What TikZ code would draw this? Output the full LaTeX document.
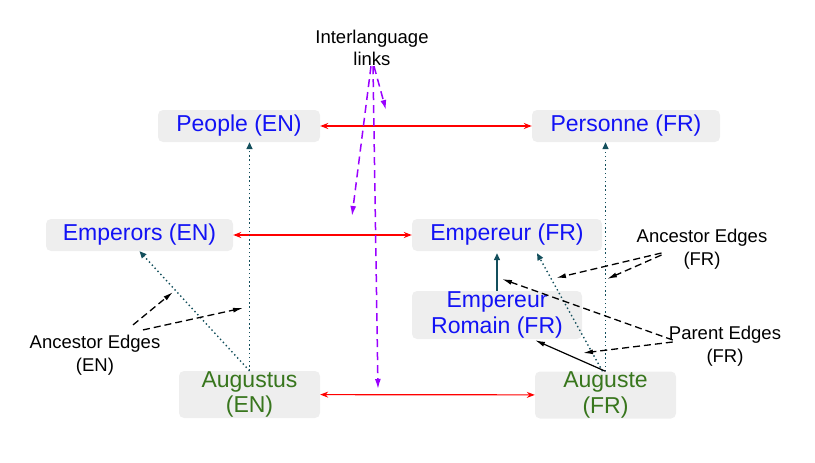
\documentclass[tikz,border=0pt]{standalone}
\usepackage{fontspec}
\setmainfont{Liberation Sans}
\usetikzlibrary{arrows.meta,positioning,calc}
\definecolor{boxgray}{HTML}{EEEEEE}
\definecolor{catblue}{HTML}{1212F5}
\definecolor{artgreen}{HTML}{38761D}
\definecolor{edgeteal}{HTML}{134F5C}
\definecolor{linkpurple}{HTML}{9900FF}
\tikzset{
  box/.style={fill=boxgray,rounded corners=5pt,inner sep=0pt,align=center,
    font=\fontsize{23}{25.5}\selectfont},
  cat/.style={box,text=catblue,minimum height=32pt},
  art/.style={box,text=artgreen,minimum height=47pt,minimum width=141pt},
  lbl/.style={align=center,inner sep=0pt,font=\fontsize{18.5}{22.5}\selectfont},
  langedge/.style={{Stealth[length=8pt,width=6pt]}-{Stealth[length=8pt,width=6pt]},red,line width=1.2pt},
  ancedge/.style={-{Triangle[length=7pt,width=6pt]},edgeteal,line width=1.4pt,dash pattern=on 1.4pt off 2.8pt},
  noteedge/.style={-{Latex[length=10pt,width=5pt]},black,line width=1.3pt,dash pattern=on 7pt off 4pt},
  linkedge/.style={-{Latex[length=10pt,width=6pt]},linkpurple,line width=1.5pt,dash pattern=on 8pt off 5pt},
}

\begin{document}
\begin{tikzpicture}[x=1pt,y=-1pt]
\useasboundingbox (0,0) rectangle (815,463);
% categories
\node[cat,minimum width=162pt] (people) at (239,126) {People (EN)};
\node[cat,minimum width=188pt] (personne) at (626,126) {Personne (FR)};
\node[cat,minimum width=187pt] (emperors) at (139.5,235) {Emperors (EN)};
\node[cat,minimum width=190pt] (empereur) at (507,235) {Empereur (FR)};
\node[cat,minimum width=170pt,minimum height=48pt] (romain) at (497,315) {Empereur\\Romain (FR)};
% articles
\node[art] (augustus) at (249.5,394.5) {Augustus\\(EN)};
\node[art] (auguste) at (605.5,395) {Auguste\\(FR)};
% notes
\node[lbl] (links) at (372,48) {Interlanguage\\links};
\node[lbl] (ancen) at (95,355) {Ancestor Edges\\(EN)};
\node[lbl] (ancfr) at (702,249) {Ancestor Edges\\(FR)};
\node[lbl] (parfr) at (725,346) {Parent Edges\\(FR)};

% interlanguage links
\draw[langedge] (people) -- (personne);
\draw[langedge] (emperors) -- (empereur);
\draw[langedge] (augustus) -- (auguste);

% category edges
\draw[ancedge] (augustus.north) -- (augustus.north |- people.south);
\draw[ancedge] (auguste.north) -- (auguste.north |- personne.south);
\draw[ancedge] (augustus.north) -- (emperors.south);
\draw[ancedge] ($(auguste.north)+(-3,0)$) -- ($(empereur.south)+(30,2)$);
\draw[-{Triangle[length=7pt,width=6pt]},edgeteal,line width=1.3pt] (romain.north) -- ($(romain.north |- empereur.south)+(0,2)$);
\draw[-{Latex[length=10pt,width=5pt]},line width=1.2pt] (auguste.north) -- ($(romain.south)+(38,1)$);

% pointers from the notes
\coordinate (ten1) at (173,292);
\coordinate (ten2) at (243,308);
\coordinate (tfr1) at (556,278);
\coordinate (tfr2) at (607,279);
\coordinate (tpa1) at (502,279);
\coordinate (tpa2) at (583,353);
\coordinate (tli1) at (352,216);
\coordinate (tli2) at (378,389);
\coordinate (tli3) at (386,110);
\draw[noteedge] ($(ancen.north)+(38,-10)$) -- (ten1);
\draw[noteedge] ($(ancen.north)+(48,-5)$) -- (ten2);
\draw[noteedge] ($(ancfr.west)+(25,4)$) -- (tfr1);
\draw[noteedge] ($(ancfr.west)+(25,6)$) -- (tfr2);
\draw[noteedge] ($(parfr.west)+(4,-6)$) -- (tpa1);
\draw[noteedge] ($(parfr.west)+(4,-4)$) -- (tpa2);
\draw[linkedge] ($(links.south)+(-1,0)$) -- (tli1);
\draw[linkedge] ($(links.south)+(1,0)$) -- (tli2);
\draw[linkedge] ($(links.south)+(2,0)$) -- (tli3);
\end{tikzpicture}
\end{document}
